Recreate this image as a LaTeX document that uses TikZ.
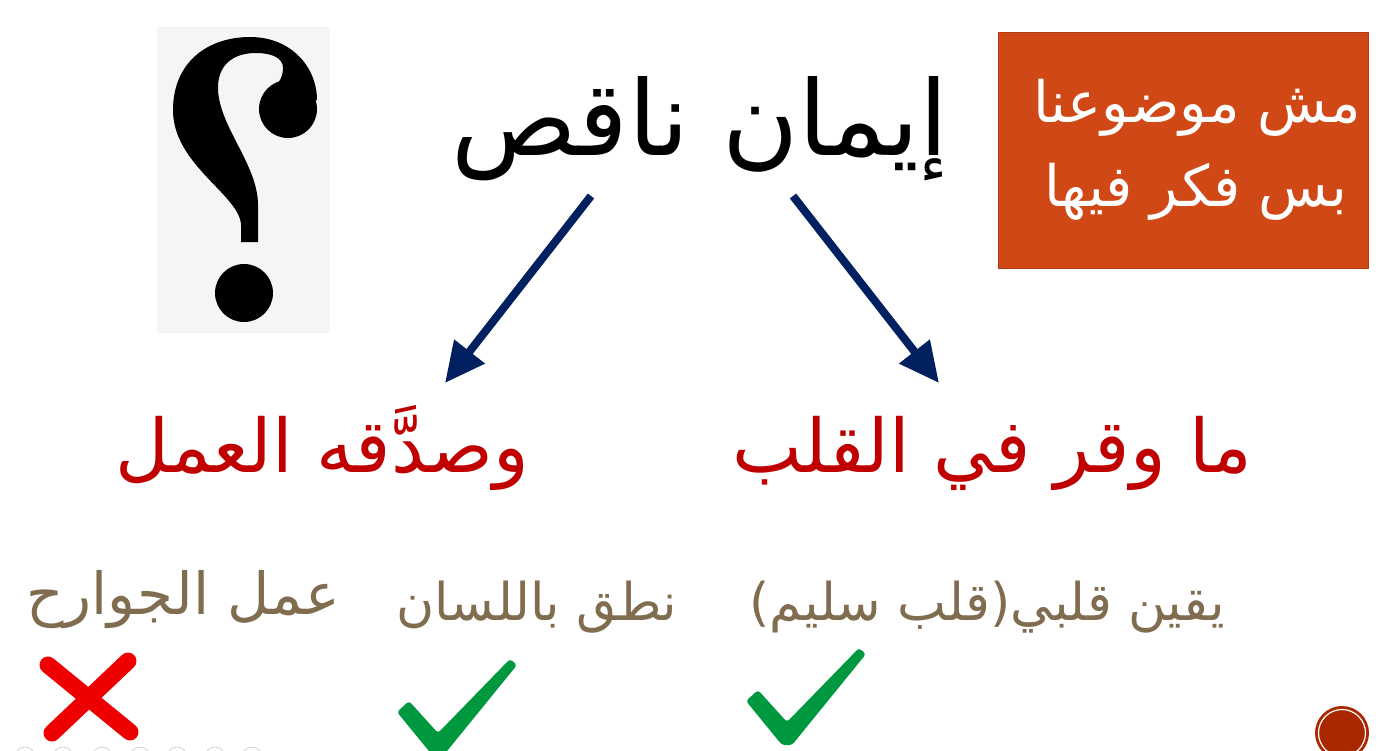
\documentclass[tikz,border=0pt]{standalone}
\usepackage{fontspec}
\TeXXeTstate=1
\newfontfamily\arabicfont[Script=Arabic]{DejaVu Sans}
\usetikzlibrary{arrows.meta}
\definecolor{navy}{HTML}{002060}
\definecolor{dkred}{HTML}{C00000}
\definecolor{tan}{HTML}{806C4E}
\definecolor{boxorange}{HTML}{D04815}
\definecolor{chkgreen}{HTML}{00983E}
\definecolor{xred}{HTML}{EE0000}
\definecolor{qgray}{HTML}{F5F5F5}
\definecolor{circred}{HTML}{A92800}
\tikzset{
  ar/.style={font=\arabicfont, inner sep=0pt, anchor=base},
  title/.style={ar, font=\arabicfont\fontsize{104}{124}\selectfont, text=black},
  redtxt/.style={ar, font=\arabicfont\fontsize{74}{88}\selectfont, text=dkred},
  tantxt/.style={ar, font=\arabicfont\fontsize{52}{62}\selectfont, text=tan},
  boxtxt/.style={ar, font=\arabicfont\fontsize{57}{68}\selectfont, text=white},
  bigarrow/.style={navy, line width=8pt, -{Triangle[length=40pt,width=37pt]}},
  checkmark/.style={fill=chkgreen, rounded corners=3pt},
  xstroke/.style={xred, line width=17pt, line cap=round},
  dotring/.style={draw=gray!35, line width=0.8pt}
}
\begin{document}
\begin{tikzpicture}[x=1pt,y=-1pt]
\useasboundingbox (0,0) rectangle (1382,750);
\fill[white] (0,0) rectangle (1382,750);

% question mark picture
\fill[qgray] (157,27) rectangle (330,333);
\fill[black] (241,242) -- (241,225) .. controls (240,195) and (173,165) .. (173,110)
  .. controls (173,62) and (208,37) .. (250,37)
  .. controls (292,37) and (317,68) .. (317,100) -- (290,110) -- (266,96)
  .. controls (276,86) and (283,80) .. (283,68)
  .. controls (283,58) and (272,53) .. (256,53)
  .. controls (232,53) and (217,66) .. (218,90)
  .. controls (220,128) and (258,165) .. (258,205) -- (258,242) -- cycle;
\fill[black] (288,109) circle (29);
\fill[black] (244,293) circle (29);

% orange box
\fill[fill=boxorange, draw=boxorange!85!black, line width=0.6pt] (998,32) rectangle (1368,268);
\node[boxtxt] (b1) at (1197,122) {\beginR مش موضوعنا\endR};
\node[boxtxt] (b2) at (1196,206) {\beginR بس فكر فيها\endR};

% title
\node[title] (title) at (700,155) {\beginR إيمان ناقص\endR};

% red texts
\node[redtxt] (deed) at (322,472) {\beginR وصدَّقه العمل\endR};
\node[redtxt] (heart) at (992,472) {\beginR ما وقر في القلب\endR};

% arrows
\coordinate (la) at (591,196);
\coordinate (lb) at (445,383);
\coordinate (ra) at (793,196);
\coordinate (rb) at (939,383);
\draw[bigarrow] (la) -- (lb);
\draw[bigarrow] (ra) -- (rb);

% tan texts
\node[tantxt, font=\arabicfont\fontsize{58}{68}\selectfont] (limbs) at (183,614) {\beginR عمل الجوارح\endR};
\node[tantxt] (tongue) at (537,620) {\beginR نطق باللسان\endR};
\node[tantxt] (certain) at (987,620) {\beginR يقين قلبي(قلب سليم)\endR};

% red X
\draw[xstroke] (48,665) -- (130,732);
\draw[xstroke] (128,661) -- (52,733);

% checks
\fill[checkmark] (397,712) -- (409,701) -- (438,733) -- (510,659) -- (517,665) -- (443,756) -- (433,756) -- cycle;
\fill[checkmark, shift={(349,-11)}] (397,712) -- (409,701) -- (438,733) -- (510,659) -- (517,665) -- (443,756) -- (433,756) -- cycle;

% bottom-left rings
\foreach \cx in {25,63,102,140,177,215,252} \draw[dotring] (\cx,757) circle (10);

% bottom-right circle
\fill[circred] (1342,733) circle (27);
\draw[white, line width=1.2pt] (1342,733) circle (23.5);
\end{tikzpicture}
\end{document}
